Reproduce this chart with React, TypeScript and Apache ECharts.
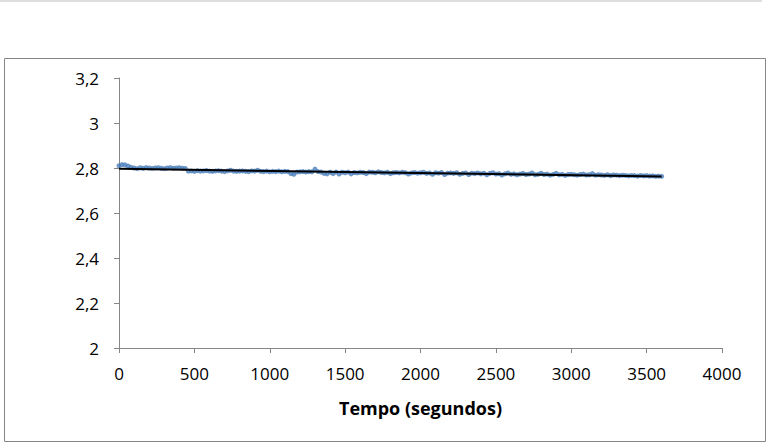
import React, { useEffect, useRef } from "react";
import * as echarts from "echarts";

const timeStep = 20; // seconds between samples
const voltage: number[] = [
  // 0 - 380
  2.81, 2.815, 2.814, 2.809, 2.803, 2.8, 2.797, 2.801, 2.799, 2.802, 2.8, 2.798, 2.8, 2.801, 2.799, 2.797, 2.8, 2.802, 2.799, 2.8,
  // 400 - 780
  2.801, 2.799, 2.798, 2.786, 2.787, 2.785, 2.788, 2.786, 2.787, 2.789, 2.786, 2.785, 2.787, 2.788, 2.786, 2.784, 2.787, 2.79, 2.786, 2.785,
  // 800 - 1180
  2.786, 2.787, 2.785, 2.784, 2.787, 2.786, 2.79, 2.785, 2.784, 2.786, 2.783, 2.785, 2.784, 2.786, 2.783, 2.785, 2.784, 2.775, 2.772, 2.782,
  // 1200 - 1580
  2.783, 2.784, 2.782, 2.784, 2.783, 2.795, 2.784, 2.782, 2.776, 2.774, 2.781, 2.775, 2.782, 2.773, 2.781, 2.779, 2.782, 2.774, 2.78, 2.778,
  // 1600 - 1980
  2.781, 2.78, 2.775, 2.782, 2.781, 2.779, 2.783, 2.78, 2.778, 2.781, 2.775, 2.779, 2.78, 2.778, 2.781, 2.779, 2.773, 2.778, 2.78, 2.777,
  // 2000 - 2380
  2.779, 2.781, 2.776, 2.778, 2.772, 2.779, 2.777, 2.78, 2.771, 2.777, 2.778, 2.776, 2.779, 2.772, 2.776, 2.778, 2.771, 2.777, 2.775, 2.778,
  // 2400 - 2780
  2.774, 2.777, 2.77, 2.776, 2.779, 2.773, 2.775, 2.769, 2.774, 2.778, 2.772, 2.774, 2.77, 2.773, 2.776, 2.771, 2.773, 2.778, 2.77, 2.772,
  // 2800 - 3180
  2.777, 2.771, 2.773, 2.768, 2.772, 2.776, 2.77, 2.772, 2.767, 2.771, 2.772, 2.77, 2.768, 2.771, 2.773, 2.769, 2.77, 2.775, 2.768, 2.77,
  // 3200 - 3600
  2.769, 2.767, 2.77, 2.766, 2.769, 2.768, 2.766, 2.768, 2.767, 2.765, 2.767, 2.766, 2.764, 2.767, 2.765, 2.766, 2.764, 2.765, 2.763, 2.764, 2.763,
];
const trendTimes = [0, 3600];
const trendValues = [2.797, 2.762];
const xTitle = "Tempo (segundos)";

const FONT = "'Open Sans', sans-serif";

export default function App() {
  const ref = useRef<HTMLDivElement>(null);
  useEffect(() => {
    document.body.style.margin = "0";
    const chart = echarts.init(ref.current!, null, { renderer: "svg" });
    const points = voltage.map((v, i) => [i * timeStep, v]);
    const trend = trendTimes.map((t, i) => [t, trendValues[i]]);
    chart.setOption({
      animation: false,
      backgroundColor: "#ffffff",
      graphic: [
        { type: "rect", shape: { x: 0, y: 0, width: 762, height: 2 }, style: { fill: "#dedede" }, silent: true },
        {
          type: "rect",
          shape: { x: 4.5, y: 58.5, width: 761, height: 383 },
          style: { fill: "none", stroke: "#868686", lineWidth: 1 },
          silent: true,
        },
      ],
      grid: { left: 119, top: 78, width: 603, height: 270, containLabel: false },
      xAxis: {
        type: "value",
        min: 0,
        max: 4000,
        interval: 500,
        name: xTitle,
        nameLocation: "middle",
        nameGap: 51,
        nameTextStyle: { fontFamily: FONT, fontSize: 18, fontWeight: "bold", color: "#000" },
        axisLine: { lineStyle: { color: "#868686", width: 1 } },
        axisTick: { show: true, length: 5, inside: false, lineStyle: { color: "#868686" } },
        axisLabel: {
          fontFamily: FONT,
          fontSize: 17,
          color: "#000",
          margin: 17,
          formatter: (v: number) => String(v),
        },
        splitLine: { show: false },
      },
      yAxis: {
        type: "value",
        min: 2,
        max: 3.2,
        interval: 0.2,
        axisLine: { show: true, lineStyle: { color: "#868686", width: 1 } },
        axisTick: { show: true, length: 5, inside: false, lineStyle: { color: "#868686" } },
        axisLabel: {
          fontFamily: FONT,
          fontSize: 17,
          color: "#000",
          margin: 20,
          formatter: (v: number) => String(Math.round(v * 10) / 10).replace(".", ","),
        },
        splitLine: { show: false },
      },
      series: [
        {
          type: "scatter",
          data: points,
          symbol: "circle",
          symbolSize: 5,
          itemStyle: { color: "#4a7ebb" },
          z: 2,
        },
        {
          type: "line",
          data: trend,
          showSymbol: false,
          symbol: "none",
          lineStyle: { color: "#000000", width: 2 },
          z: 3,
        },
      ],
    });
    return () => chart.dispose();
  }, []);
  return <div ref={ref} style={{ position: "absolute", left: 0, top: 0, width: 768, height: 444 }} />;
}
